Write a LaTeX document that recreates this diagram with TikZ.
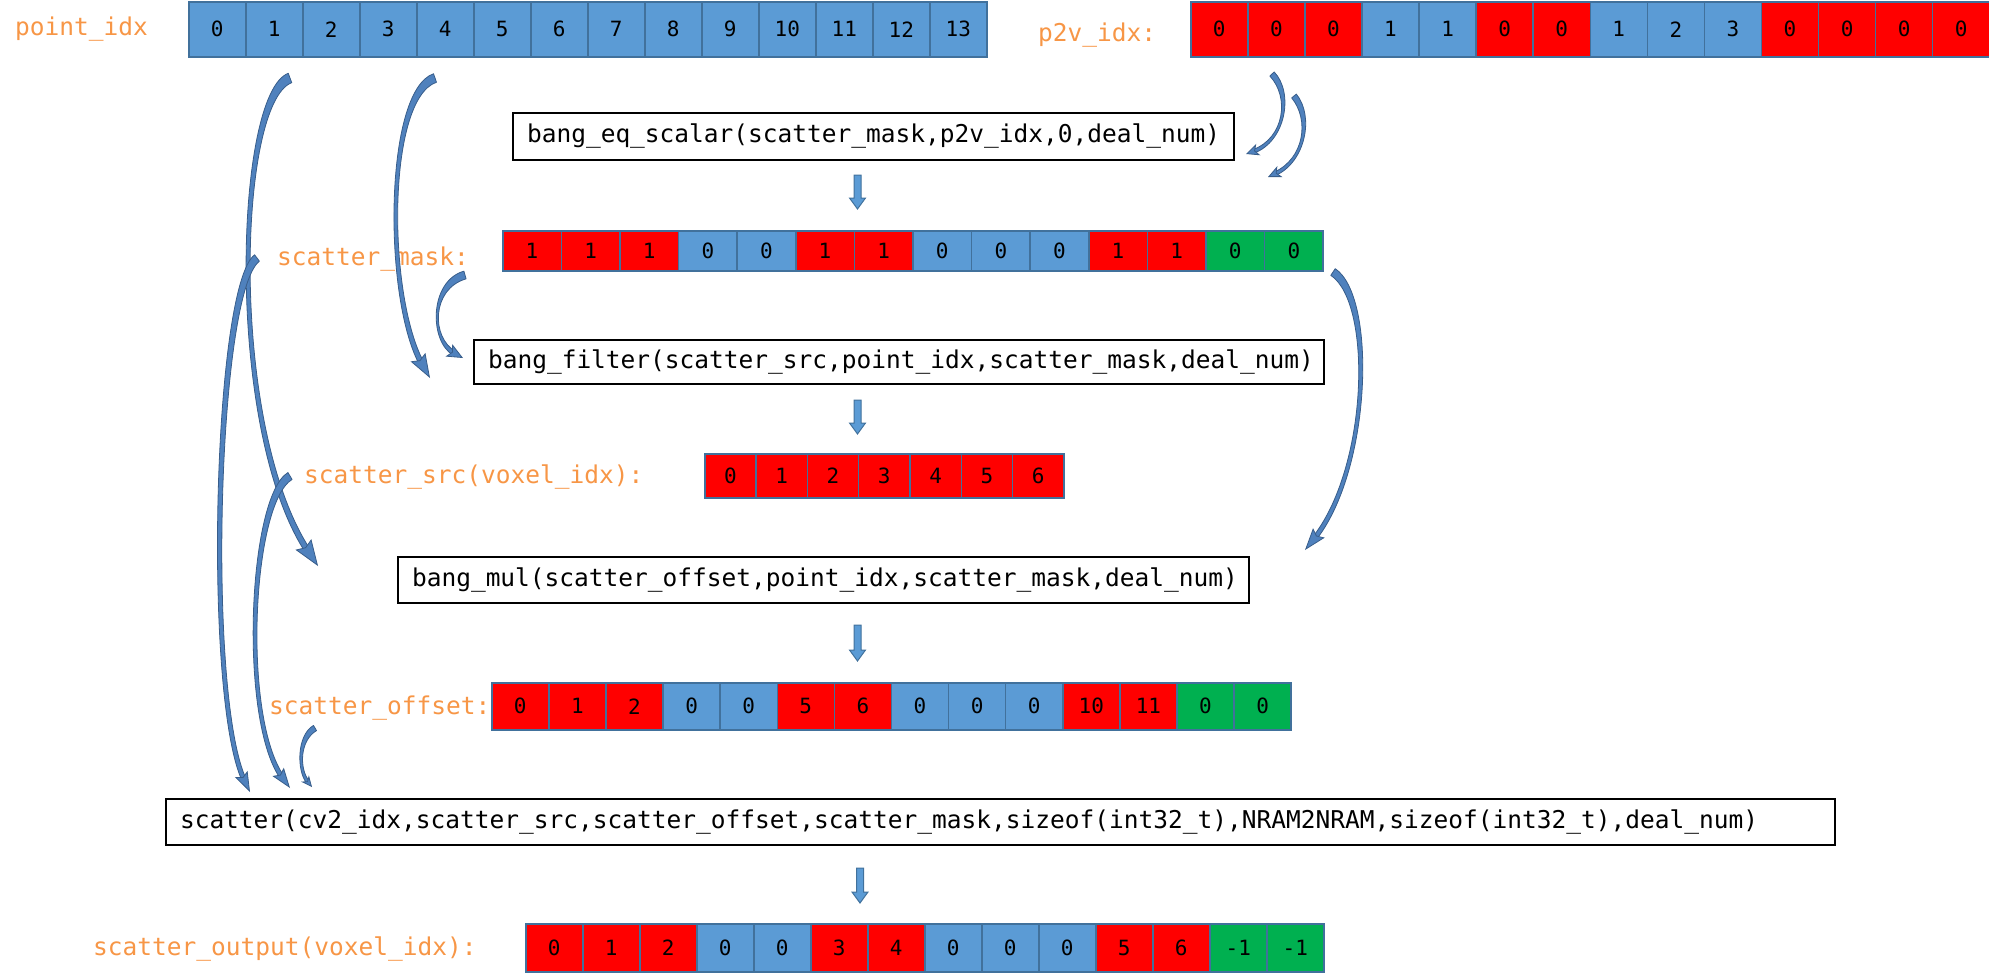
\documentclass[tikz,border=0pt]{standalone}
\usepackage{fontspec}
\setmonofont{DejaVu Sans Mono}
\usetikzlibrary{calc,arrows.meta}

\definecolor{cellblue}{RGB}{91,155,213}
\definecolor{cellred}{RGB}{255,0,0}
\definecolor{cellgreen}{RGB}{0,176,80}
\definecolor{cellline}{RGB}{65,113,156}
\definecolor{labelorange}{RGB}{247,150,70}
\definecolor{curvefill}{RGB}{79,129,189}
\definecolor{curveline}{RGB}{56,93,138}

\tikzset{
  cell/.style={draw=cellline, line width=1.5pt, inner sep=0pt, anchor=north west,
    font=\ttfamily\fontsize{21}{25}\selectfont, text=black},
  fnbox/.style={draw=black, line width=2pt, inner xsep=14pt, inner ysep=0pt,
    anchor=north west, align=left, font=\ttfamily\fontsize{24.5}{28}\selectfont},
  arrlabel/.style={text=labelorange, inner sep=0pt, anchor=west,
    font=\ttfamily\fontsize{24.5}{28}\selectfont},
  curvebody/.style={fill=curvefill, draw=curveline, line width=0.8pt, line join=round},
  blockarrow/.style={fill=cellblue, draw=cellline, line width=1pt, line join=miter},
}

% a row of cells: name, left x, top y, cell width, cell height, list colour/value
\newcommand\cellrow[6]{%
  \foreach \c/\v [count=\i from 0] in {#6}{%
    \node[cell, fill=\c, minimum width=#4pt, minimum height=#5pt] (#1-\i) at ({#2+\i*#4},#3) {\v};
  }}

% tapered curved arrow: tail, control 1, control 2, tip, tail half width, end half width,
% head length, head width
\newcommand\bendarrow[8]{%
  \path ($(#1)!#5!90:(#2)$) coordinate (bt-l)
        ($(#1)!#5!-90:(#2)$) coordinate (bt-r)
        ($(#4)!0.6*#7!(#3)$) coordinate (bh);
  \path ($(bh)!#6!-90:(#3)$) coordinate (bh-l)
        ($(bh)!#6!90:(#3)$) coordinate (bh-r);
  \filldraw[curvebody] (bt-l) .. controls ($(#2)+(bt-l)-(#1)$) and ($(#3)+(bh-l)-(bh)$) .. (bh-l)
     -- (bh-r) .. controls ($(#3)+(bh-r)-(bh)$) and ($(#2)+(bt-r)-(#1)$) .. (bt-r) -- cycle;
  \draw[curveline, line width=0.8pt, -{Stealth[length=#7, width=#8, inset=3.5pt, fill=curvefill]}] (bh) -- (#4);
}

% straight block arrow pointing down, from top point to tip
\newcommand\blockdown[2]{%
  \filldraw[blockarrow] ($(#1)+(-3.5,0)$) -- ($(#1)+(3.5,0)$) -- ($(#2)+(3.5,-11)$)
    -- ($(#2)+(8,-11)$) -- (#2) -- ($(#2)+(-8,-11)$) -- ($(#2)+(-3.5,-11)$) -- cycle;
}

\begin{document}
\begin{tikzpicture}[x=1pt,y=-1pt]
\useasboundingbox (0,0) rectangle (1989,972);

% ---- arrays ----
\cellrow{pidx}{188}{1}{57}{55}{cellblue/0,cellblue/1,cellblue/2,cellblue/3,cellblue/4,cellblue/5,cellblue/6,cellblue/7,cellblue/8,cellblue/9,cellblue/10,cellblue/11,cellblue/12,cellblue/13}
\cellrow{p2v}{1190}{1}{57.07}{55}{cellred/0,cellred/0,cellred/0,cellblue/1,cellblue/1,cellred/0,cellred/0,cellblue/1,cellblue/2,cellblue/3,cellred/0,cellred/0,cellred/0,cellred/0}
\cellrow{mask}{502}{230}{58.6}{40}{cellred/1,cellred/1,cellred/1,cellblue/0,cellblue/0,cellred/1,cellred/1,cellblue/0,cellblue/0,cellblue/0,cellred/1,cellred/1,cellgreen/0,cellgreen/0}
\cellrow{src}{704}{453}{51.3}{44}{cellred/0,cellred/1,cellred/2,cellred/3,cellred/4,cellred/5,cellred/6}
\cellrow{off}{491}{682}{57.1}{47}{cellred/0,cellred/1,cellred/2,cellblue/0,cellblue/0,cellred/5,cellred/6,cellblue/0,cellblue/0,cellblue/0,cellred/10,cellred/11,cellgreen/0,cellgreen/0}
\cellrow{out}{525}{923}{57}{48}{cellred/0,cellred/1,cellred/2,cellblue/0,cellblue/0,cellred/3,cellred/4,cellblue/0,cellblue/0,cellblue/0,cellred/5,cellred/6,cellgreen/-1,cellgreen/-1}

% ---- labels ----
\node[arrlabel] (lpidx) at (15,29) {point\_idx};
\node[arrlabel] (lp2v) at (1038,35) {p2v\_idx:};
\node[arrlabel] (lmask) at (277,259) {scatter\_mask:};
\node[arrlabel] (lsrc) at (304,477) {scatter\_src(voxel\_idx):};
\node[arrlabel] (loff) at (269,708) {scatter\_offset:};
\node[arrlabel] (lout) at (93,949) {scatter\_output(voxel\_idx):};

% ---- function calls ----
\node[fnbox, text width=693pt, minimum height=47pt] (eq) at (512,112)
  {bang\_eq\_scalar(scatter\_mask,p2v\_idx,0,deal\_num)};
\node[fnbox, text width=822pt, minimum height=44pt] (filter) at (473,339)
  {bang\_filter(scatter\_src,point\_idx,scatter\_mask,deal\_num)};
\node[fnbox, text width=823pt, minimum height=46pt] (mul) at (397,556)
  {bang\_mul(scatter\_offset,point\_idx,scatter\_mask,deal\_num)};
\node[fnbox, text width=1641pt, minimum height=46pt] (scat) at (165,798)
  {scatter(cv2\_idx,scatter\_src,scatter\_offset,scatter\_mask,sizeof(int32\_t),NRAM2NRAM,sizeof(int32\_t),deal\_num)};

% ---- straight flow arrows ----
\coordinate (d1t) at (857.5,175); \coordinate (d1b) at (857.5,209);
\coordinate (d2t) at (857.5,400); \coordinate (d2b) at (857.5,434);
\coordinate (d3t) at (857.5,625); \coordinate (d3b) at (857.5,661);
\coordinate (d4t) at (860,868);   \coordinate (d4b) at (860,903);
\blockdown{d1t}{d1b}
\blockdown{d2t}{d2b}
\blockdown{d3t}{d3b}
\blockdown{d4t}{d4b}

% ---- curved operand arrows ----
\coordinate (a0) at (290,78);   \coordinate (a1) at (318,566);
\coordinate (b0) at (435,78);   \coordinate (b1) at (430,378);
\coordinate (c0) at (1272,74);  \coordinate (c1) at (1246,154);
\coordinate (e0) at (1294,96);  \coordinate (e1) at (1268,177);
\coordinate (g0) at (465,275);  \coordinate (g1) at (463,358);
\coordinate (h0) at (1333,272); \coordinate (h1) at (1305,550);
\coordinate (m0) at (257,258);  \coordinate (m1) at (250,792);
\coordinate (s0) at (290,476);  \coordinate (s1) at (290,788);
\coordinate (o0) at (315,728);  \coordinate (o1) at (312,787);

\bendarrow{a0}{236,98}{226,430}{a1}{5pt}{2.8pt}{26pt}{19pt}
\bendarrow{b0}{385,95}{385,300}{b1}{4.5pt}{2.5pt}{24pt}{17pt}
\bendarrow{c0}{1292,95}{1285,140}{c1}{3pt}{1.8pt}{13pt}{12pt}
\bendarrow{e0}{1312,118}{1305,160}{e1}{3pt}{1.8pt}{13pt}{12pt}
\bendarrow{g0}{430,285}{430,340}{g1}{4pt}{2.2pt}{16pt}{14pt}
\bendarrow{h0}{1375,300}{1370,470}{h1}{4pt}{2.2pt}{22pt}{15pt}
\bendarrow{m0}{215,290}{205,700}{m1}{4pt}{2.2pt}{20pt}{14pt}
\bendarrow{s0}{250,500}{240,720}{s1}{4pt}{2.2pt}{20pt}{14pt}
\bendarrow{o0}{298,738}{298,770}{o1}{3pt}{1.6pt}{11pt}{10pt}
\end{tikzpicture}
\end{document}
